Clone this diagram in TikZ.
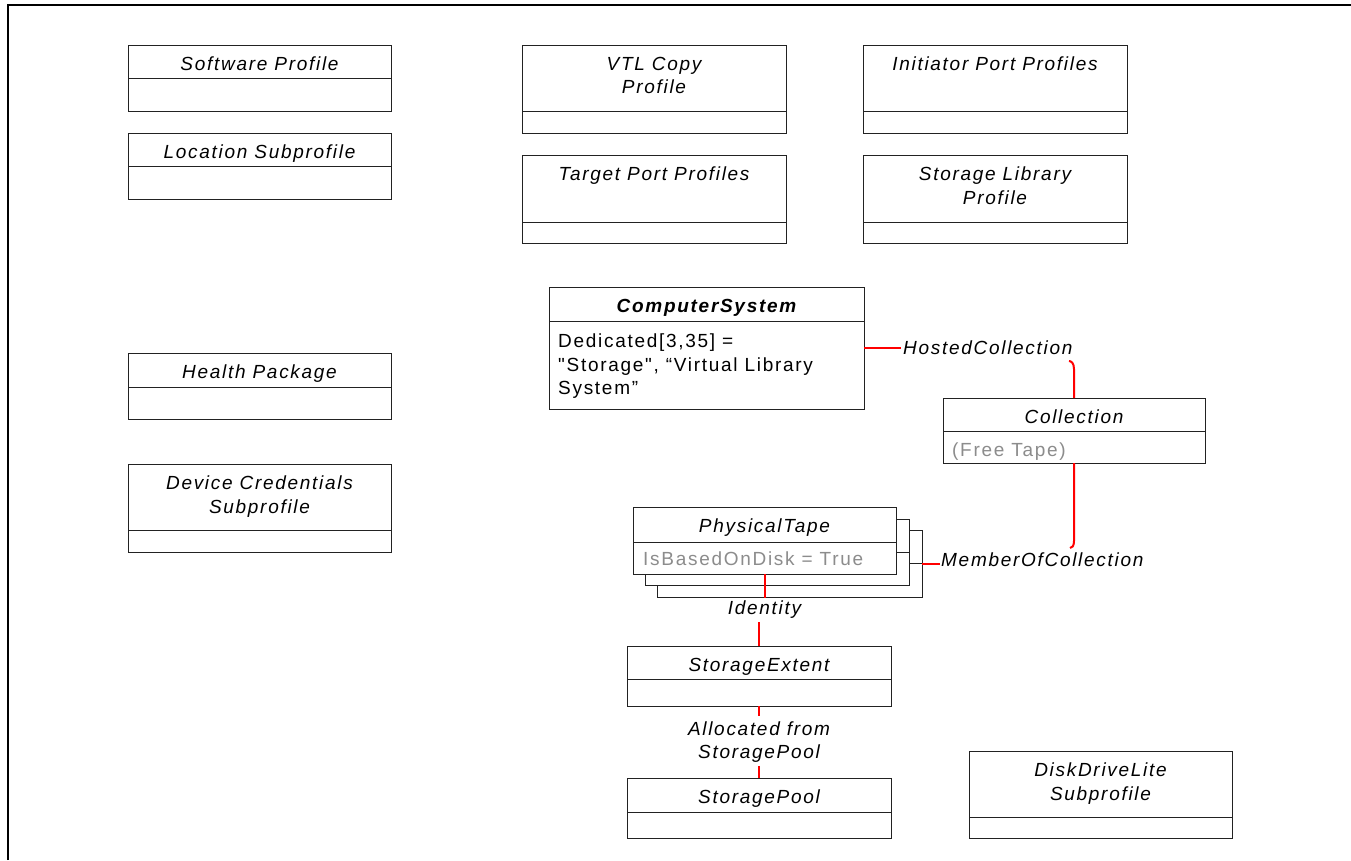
\documentclass[tikz,border=0pt]{standalone}
\usepackage{fontspec}
\setmainfont{Liberation Sans}[LetterSpace=9, Ligatures=TeXOff]
\usetikzlibrary{calc}

\definecolor{assocred}{HTML}{FF0000}
\definecolor{attrgray}{HTML}{8C8C8C}
\definecolor{boxline}{HTML}{222222}

\newcommand\lbl{\fontsize{19}{23.5}\selectfont\itshape}
\newcommand\attrfont{\fontsize{19}{23.5}\selectfont}

\tikzset{
  cls/.style={draw=boxline, line width=1pt, fill=white, inner sep=0pt,
              outer sep=0pt, anchor=north west},
  clsline/.style={draw=boxline, line width=1pt},
  ttl/.style={font=\lbl, align=center, anchor=north, inner sep=0pt},
  attrtxt/.style={font=\attrfont, text=attrgray, inner sep=0pt, anchor=base west},
  role/.style={font=\lbl, inner sep=0pt},
  assoc/.style={draw=assocred, line width=2pt},
  frame/.style={draw=black, line width=2pt},
}

% class box: name, left, top, right, divider, bottom, title
\newcommand\classbox[7]{%
  \node[cls, minimum width={(#4-#2)*1pt}, minimum height={(#6-#3)*1pt}] (#1) at (#2,#3) {};
  \draw[clsline] (#2,#5) -- (#4,#5);
  \node[ttl] (#1-t) at ($(#1.north)+(0,12)$) {#7};
}
% stacked sheet behind a class box: name, left, top, right, divider, bottom
\newcommand\sheetbox[6]{%
  \node[cls, minimum width={(#4-#2)*1pt}, minimum height={(#6-#3)*1pt}] (#1) at (#2,#3) {};
  \draw[clsline] (#2,#5) -- (#4,#5);
}

\begin{document}
\begin{tikzpicture}[x=1pt, y=-1pt]
\useasboundingbox (0,0) rectangle (1351,860);

% outer frame
\draw[frame] (8,860) -- (8,5) -- (1351,5);

% profile boxes
\classbox{sw}{128}{45}{391}{78}{111}{Software Profile}
\classbox{loc}{128}{133}{391}{166}{199}{Location Subprofile}
\classbox{vtl}{522}{45}{786}{111}{133}{VTL Copy\\Profile}
\classbox{ini}{863}{45}{1127}{111}{133}{Initiator Port Profiles}
\classbox{tgt}{522}{155}{786}{222}{243}{Target Port Profiles}
\classbox{slp}{863}{155}{1127}{222}{243}{Storage Library\\Profile}
\classbox{hp}{128}{353}{391}{387}{419}{Health Package}
\classbox{dcs}{128}{464}{391}{530}{552}{Device Credentials\\Subprofile}
\classbox{ddl}{969}{751}{1232}{817}{838}{DiskDriveLite\\Subprofile}

% classes
\classbox{cs}{549}{287}{864}{321}{409}{\bfseries ComputerSystem}
\node[attrtxt, text=black, align=left, anchor=north west] (cs-b) at (558,334)
  {Dedicated[3,35] =\\"Storage", “Virtual Library\\System”};

\classbox{coll}{943}{398}{1205}{431}{463}{Collection}
\node[attrtxt] (coll-b) at (952,456) {(Free Tape)};

\sheetbox{tape3}{657}{530}{922}{563}{597}
\sheetbox{tape2}{645}{519}{909}{552}{585}
\classbox{tape1}{633}{507}{896}{542}{574}{PhysicalTape}
\node[attrtxt] (tape1-b) at (643,565) {IsBasedOnDisk = True};

\classbox{se}{627}{646}{891}{679}{706}{StorageExtent}
\classbox{sp}{627}{778}{891}{812}{838}{StoragePool}

% association labels
\node[role, anchor=base west] (hc) at (903,354) {HostedCollection};
\node[role, anchor=base west] (moc) at (941,566) {MemberOfCollection};
\node[role] (id) at (764.5,610) {Identity};
\node[role, align=center] (alloc) at (759,742) {Allocated from\\StoragePool};

\coordinate (hc-end) at ($(coll.north)+(-5,-37)$);
\coordinate (moc-end) at ($(coll.south)+(-4,85)$);

% associations
\draw[assoc] (cs.east) -- ($(cs.east -| hc.west)+(-2,0)$);
\draw[assoc] (coll.north) -- ++(0,-29) .. controls +(0,-6) and +(2,0) .. (hc-end);
\draw[assoc] (tape3.east) -- ($(tape3.east -| moc.west)+(-1,0)$);
\draw[assoc] (coll.south) -- ++(0,78) .. controls +(0,5) and +(2,0) .. (moc-end);
\draw[assoc] (tape1.south) -- ($(tape1.south |- id.north)+(0,-3)$);
\draw[assoc] ($(se.north |- id.south)+(0,3)$) -- (se.north);
\draw[assoc] (se.south) -- ($(se.south |- alloc.north)+(0,-5)$);
\draw[assoc] ($(sp.north |- alloc.south)+(0,3)$) -- (sp.north);
\end{tikzpicture}
\end{document}
